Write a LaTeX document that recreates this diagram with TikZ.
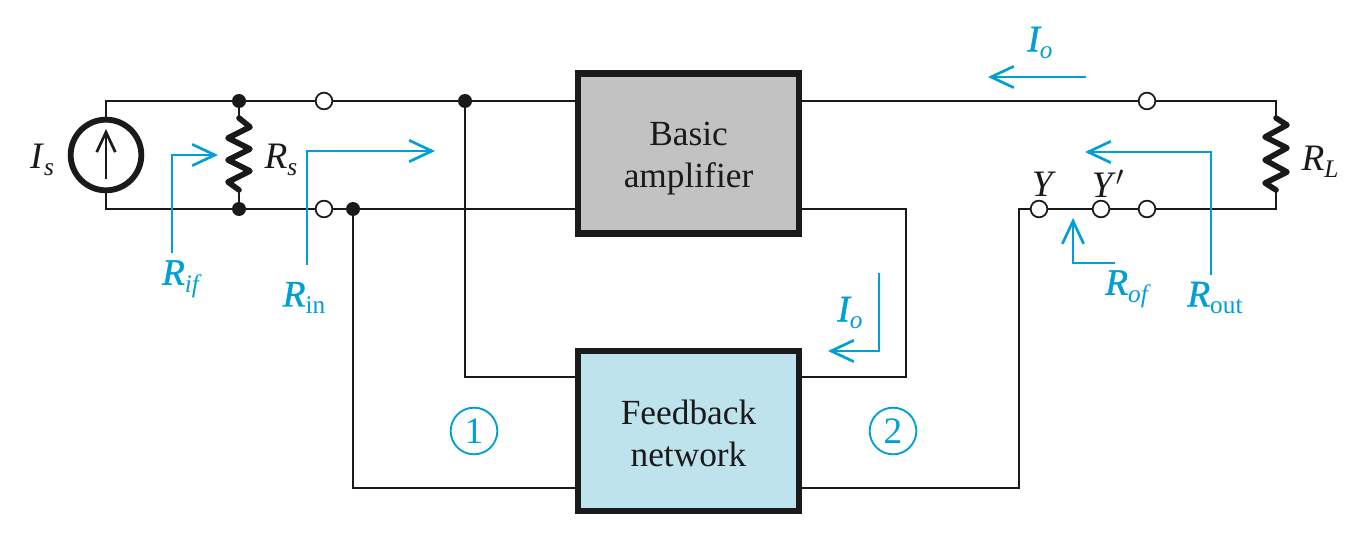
\documentclass[tikz,border=0pt]{standalone}
\usepackage{fontspec}
\setmainfont{Liberation Serif}
\newfontface\semiit[FakeBold=1]{Liberation Serif Italic}
\usetikzlibrary{arrows.meta}
\definecolor{bluec}{HTML}{009FD6}
\definecolor{inkc}{HTML}{1A1A1A}
\definecolor{ampc}{HTML}{C2C2C2}
\definecolor{fbc}{HTML}{BFE3ED}
\newcommand{\sub}[2]{\textit{#1}\raisebox{-0.2em}{\fontsize{19pt}{20pt}\selectfont #2}}
\newcommand{\subb}[2]{{\semiit #1}\raisebox{-0.2em}{\fontsize{19pt}{20pt}\selectfont #2}}
\tikzset{
  wire/.style={draw=inkc,line width=1.5pt,line join=miter},
  res/.style={draw=inkc,line width=4.2pt,line join=round,line cap=round},
  bluearrow/.style={draw=bluec,line width=2pt,line join=miter,
    -{Straight Barb[length=17pt,width=16pt,line width=2pt]}},
  openterm/.style={circle,draw=inkc,fill=white,line width=1.3pt,minimum size=12.5pt,inner sep=0pt},
  dotterm/.style={circle,fill=inkc,minimum size=10.5pt,inner sep=0pt},
  block/.style={draw=inkc,line width=4.6pt,minimum width=165.75pt,inner sep=0pt},
  blocktext/.style={font=\fontsize{26.5pt}{31.5pt}\selectfont,text=inkc,align=center,inner sep=0pt},
  blab/.style={text=inkc,font=\fontsize{28pt}{30pt}\selectfont,inner sep=0pt},
  clab/.style={text=bluec,font=\fontsize{28pt}{30pt}\selectfont,inner sep=0pt},
  numc/.style={circle,draw=bluec,line width=1.4pt,text=bluec,minimum size=35pt,inner sep=0pt,font=\fontsize{28pt}{30pt}\selectfont},
  src/.style={circle,draw=inkc,line width=4.4pt,minimum size=53pt,inner sep=0pt},
  thinarrow/.style={draw=inkc,line width=2pt,-{Straight Barb[length=15pt,width=14pt,line width=2pt]}}
}
\begin{document}
\begin{tikzpicture}[x=0.75pt,y=-0.75pt]
\useasboundingbox (0,0) rectangle (1370,538);
% blocks
\node[block,fill=ampc,minimum height=120pt] (amp) at (688.5,153.5) {};
\node[block,fill=fbc,minimum height=120pt] (fb) at (688.5,431) {};
\node[blocktext] (ampt) at (688.5,159) {Basic\\amplifier};
\node[blocktext] (fbt) at (688.5,433) {Feedback\\network};
% terminals
\node[dotterm] (d1) at (239,101) {};
\node[dotterm] (d2) at (239,209) {};
\node[dotterm] (d3) at (465,101) {};
\node[dotterm] (d4) at (353,209) {};
\node[openterm] (t1) at (324,101) {};
\node[openterm] (t2) at (324,209) {};
\node[openterm] (t3) at (1147,101) {};
\node[openterm] (t4) at (1147,209) {};
\node[openterm] (ty) at (1039,209) {};
\node[openterm] (typ) at (1101,209) {};
\node[src] (is) at (106,155) {};
% corner coordinates
\coordinate (c1) at (106,101);
\coordinate (c2) at (106,209);
\coordinate (c3) at (465,377);
\coordinate (c4) at (353,488);
\coordinate (c5) at (1276,101);
\coordinate (c6) at (1276,209);
\coordinate (c7) at (906,209);
\coordinate (c8) at (906,377);
\coordinate (c9) at (1019,488);
\coordinate (c10) at (1019,209);
\coordinate (rsT) at (239,118);
\coordinate (rsB) at (239,190);
\coordinate (rlT) at (1276,118);
\coordinate (rlB) at (1276,190);
% wires
\draw[wire] (is) -- (c1) -- (d1);
\draw[wire] (d1) -- (t1);
\draw[wire] (t1) -- (d3);
\draw[wire] (d3) -- (amp.west |- d3);
\draw[wire] (is) -- (c2) -- (d2);
\draw[wire] (d2) -- (t2);
\draw[wire] (t2) -- (d4);
\draw[wire] (d4) -- (amp.west |- d4);
\draw[wire] (d3) -- (c3) -- (fb.west |- c3);
\draw[wire] (d4) -- (c4) -- (fb.west |- c4);
\draw[wire] (amp.east |- t3) -- (t3);
\draw[wire] (t3) -- (c5) -- (rlT);
\draw[wire] (rlB) -- (c6) -- (t4);
\draw[wire] (t4) -- (typ);
\draw[wire] (typ) -- (ty);
\draw[wire] (ty) -- (c10) -- (c9) -- (fb.east |- c9);
\draw[wire] (amp.east |- c7) -- (c7) -- (c8) -- (fb.east |- c8);
\draw[wire] (d1) -- (rsT);
\draw[wire] (rsB) -- (d2);
% resistors
\draw[res] (rsT) -- ++(11,9) -- ++(-22,11) -- ++(22,11) -- ++(-22,11) -- ++(22,11) -- ++(-22,11) -- (rsB);
\draw[res] (rlT) -- ++(11,7) -- ++(-22,12) -- ++(22,11) -- ++(-22,12) -- ++(22,12) -- ++(-22,11) -- (rlB);
% source arrow
\coordinate (isa) at (106,179);
\coordinate (isb) at (106,129);
\draw[thinarrow] (isa) -- (isb);
% blue arrows
\coordinate (a1) at (172,253); \coordinate (a2) at (172,155); \coordinate (a3) at (218,155);
\draw[bluearrow] (a1) -- (a2) -- (a3);
\coordinate (b1) at (307,265); \coordinate (b2) at (307,151); \coordinate (b3) at (435,151);
\draw[bluearrow] (b1) -- (b2) -- (b3);
\coordinate (e1) at (1211,275); \coordinate (e2) at (1211,152); \coordinate (e3) at (1085,152);
\draw[bluearrow] (e1) -- (e2) -- (e3);
\coordinate (f1) at (1115,263); \coordinate (f2) at (1073,263); \coordinate (f3) at (1073,218);
\draw[bluearrow] (f1) -- (f2) -- (f3);
\coordinate (g1) at (1086,77); \coordinate (g2) at (988,77);
\draw[bluearrow] (g1) -- (g2);
\coordinate (h1) at (879,273); \coordinate (h2) at (879,351); \coordinate (h3) at (828,351);
\draw[bluearrow] (h1) -- (h2) -- (h3);
% labels
\node[blab] (lis) at (42,160) {\sub{I}{\textit{s}}};
\node[blab] (lrs) at (281,160) {\sub{R}{\textit{s}}};
\node[blab] (lrl) at (1320,162) {\sub{R}{\textit{L}}};
\node[blab] (ly) at (1044,184) {\textit{Y}};
\node[blab] (lyp) at (1108,184) {\textit{Y}$'$};
\node[clab] (lrif) at (182,279) {\subb{R}{\textit{if}}};
\node[clab] (lrin) at (304,298) {\subb{R}{in}};
\node[clab] (lrof) at (1128,289) {\subb{R}{\textit{of}}};
\node[clab] (lrout) at (1215,298) {\subb{R}{out}};
\node[clab] (lio1) at (1040,43) {\subb{I}{\textit{o}}};
\node[clab] (lio2) at (850,313) {\subb{I}{\textit{o}}};
\node[numc] (n1) at (474,431) {1};
\node[numc] (n2) at (893,431) {2};
\end{tikzpicture}
\end{document}
